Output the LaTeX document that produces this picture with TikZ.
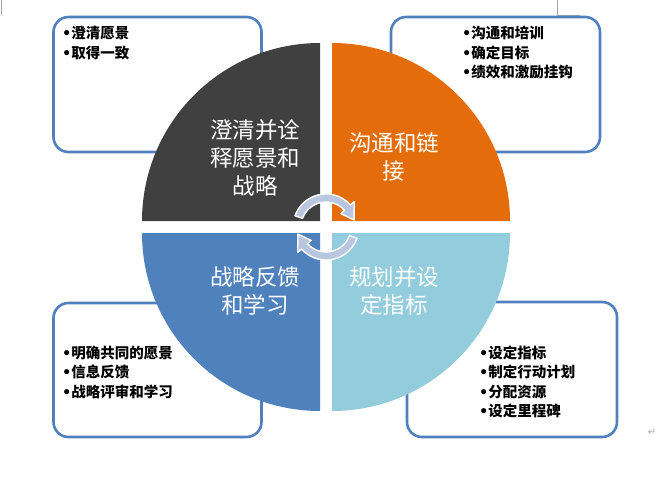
\documentclass[tikz,border=0pt]{standalone}
\usepackage{fontspec}
\setmainfont{Noto Sans CJK SC}
\newfontfamily\symfont{DejaVu Sans}
\newcommand{\bul}{{\symfont •}}
\usetikzlibrary{calc}
\definecolor{qdark}{HTML}{404040}
\definecolor{qorange}{HTML}{E46C0A}
\definecolor{qblue}{HTML}{4F81BD}
\definecolor{qlight}{HTML}{93CDDD}
\definecolor{boxline}{HTML}{5080BD}
\definecolor{arrowfill}{HTML}{B8C6E0}
\definecolor{markgray}{HTML}{A6A6A6}
\tikzset{
  listbox/.style={draw=boxline, line width=2.6pt, rounded corners=15pt, fill=white, inner sep=0pt},
  listtext/.style={inner sep=0pt, align=left, anchor=west, font=\fontsize{14.5}{19.5}\selectfont\bfseries},
  quadlabel/.style={inner sep=0pt, align=center, text=white, font=\fontsize{22.5}{28}\selectfont},
  cyclearrow/.style={fill=arrowfill, draw=white, line width=1.4pt, line join=round},
  pagemark/.style={draw=markgray, line width=0.8pt}
}
\begin{document}
\begin{tikzpicture}[x=1pt,y=-1pt]
\useasboundingbox (0,0) rectangle (657,479);
% page corner marks
\coordinate (m1a) at (1,0); \coordinate (m1b) at (1,15);
\draw[pagemark] (m1a) -- (m1b);
\coordinate (m2a) at (557,0); \coordinate (m2b) at (557,15); \coordinate (m2c) at (580,15);
\draw[pagemark] (m2a) -- (m2b) -- (m2c);
% boxes
\node[listbox, minimum width=208pt, minimum height=135pt] (btl) at (157.5,84.5) {};
\node[listbox, minimum width=209pt, minimum height=135pt] (btr) at (495.5,84.5) {};
\node[listbox, minimum width=208pt, minimum height=134pt] (bbl) at (157.5,370) {};
\node[listbox, minimum width=210pt, minimum height=135pt] (bbr) at (512,369.5) {};
% quadrants
\fill[qdark] (320,221) -- (142,221) arc[start angle=180, end angle=270, radius=178] -- cycle;
\fill[qorange] (332,221) -- (332,43) arc[start angle=270, end angle=360, radius=178] -- cycle;
\fill[qblue] (320,233) -- (320,411) arc[start angle=90, end angle=180, radius=178] -- cycle;
\fill[qlight] (332,233) -- (510,233) arc[start angle=0, end angle=90, radius=178] -- cycle;
% cycle arrows
\coordinate (C) at (326,227);
\draw[cyclearrow] ($(C)+(200:33)$) arc[start angle=200, end angle=318, radius=33]
  -- ($(C)+(318:38)$) -- ($(C)+(346:29)$) -- ($(C)+(318:20)$) -- ($(C)+(318:25)$)
  arc[start angle=318, end angle=200, radius=25] -- cycle;
\draw[cyclearrow] ($(C)+(20:33)$) arc[start angle=20, end angle=138, radius=33]
  -- ($(C)+(138:38)$) -- ($(C)+(166:29)$) -- ($(C)+(138:20)$) -- ($(C)+(138:25)$)
  arc[start angle=138, end angle=20, radius=25] -- cycle;
% quadrant labels
\node[quadlabel] (ltl) at (255,158) {澄清并诠\\释愿景和\\战略};
\node[quadlabel] (ltr) at (394,157) {沟通和链\\接};
\node[quadlabel] (lbl) at (255,291) {战略反馈\\和学习};
\node[quadlabel] (lbr) at (394,291) {规划并设\\定指标};
% list texts
\node[listtext] (ttl) at (62,43) {\bul 澄清愿景\\\bul 取得一致};
\node[listtext] (ttr) at (462,53) {\bul 沟通和培训\\\bul 确定目标\\\bul 绩效和激励挂钩};
\node[listtext] (tbl) at (62,372) {\bul 明确共同的愿景\\\bul 信息反馈\\\bul 战略评审和学习};
\node[listtext] (tbr) at (479,382) {\bul 设定指标\\\bul 制定行动计划\\\bul 分配资源\\\bul 设定里程碑};
% paragraph mark
\node[inner sep=0pt, text=markgray, font=\symfont\fontsize{10}{10}\selectfont] (para) at (652,432) {↵};
\end{tikzpicture}
\end{document}
